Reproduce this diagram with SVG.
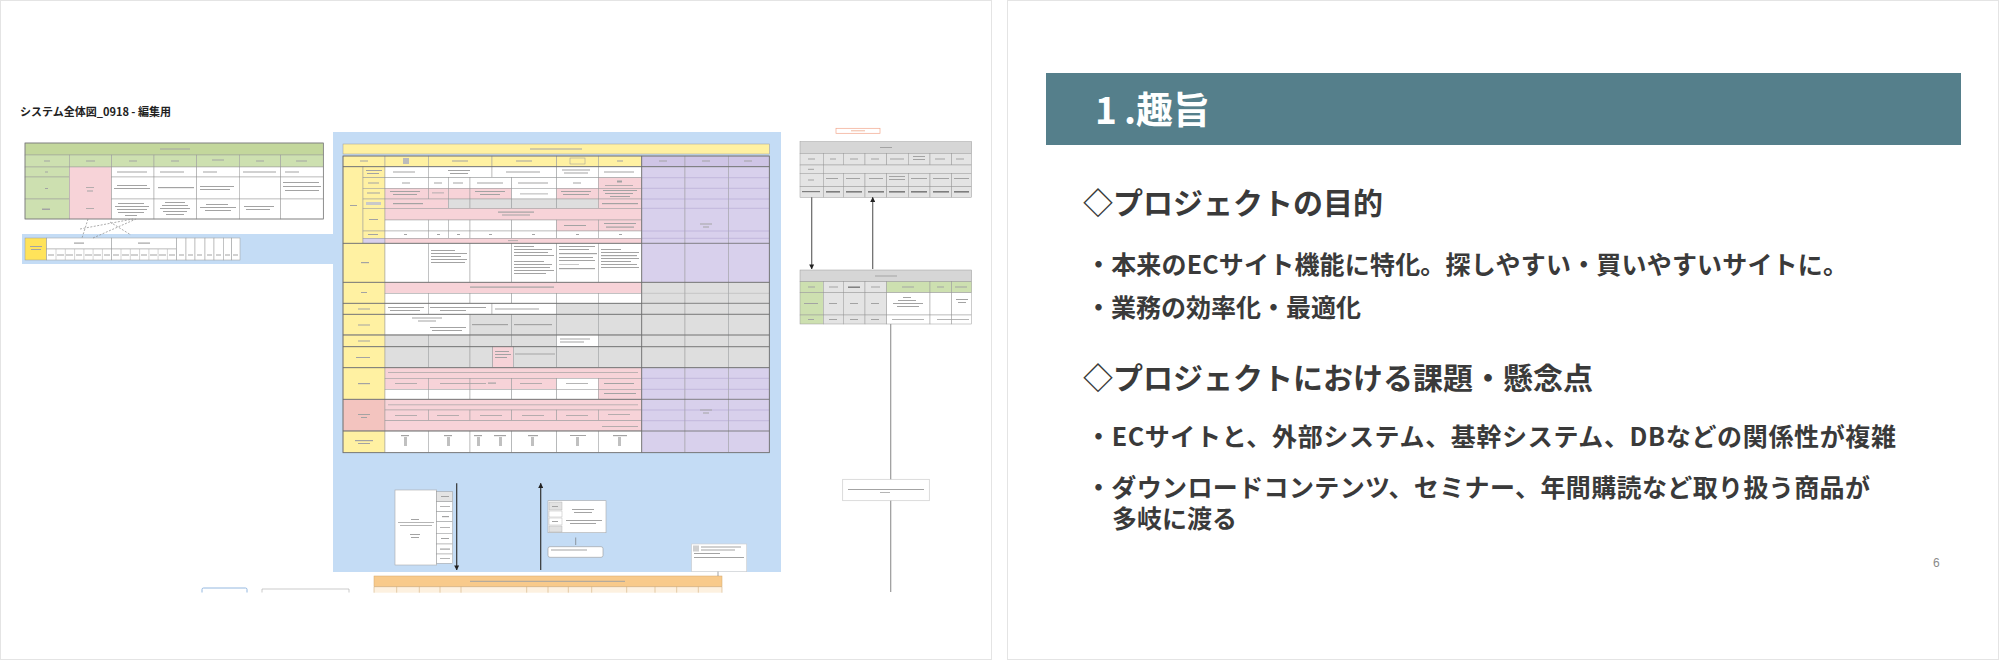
<svg xmlns="http://www.w3.org/2000/svg" width="2000" height="662" viewBox="0 0 2000 662">
<defs>
<style>
.c{stroke:#9a9a9a;stroke-width:0.5}
.w{fill:#ffffff}.y{fill:#fff1a2}.p{fill:#f7d3d8}.g{fill:#dedede}.v{fill:#d8d0ec}.vh{fill:#cfc5e6}
.gr{fill:#cde0b0}.grt{fill:#c3d79c}.sal{fill:#f3c4bf}.gg{fill:#e4e4e4}.gt{fill:#d6d6d6}
.t{fill:#a3a3a3}.td{fill:#7d7d7d}
.sec{stroke:#6a6a6a;stroke-width:0.8;fill:none}
.pl{stroke:#aa9fcc;stroke-width:0.5}
.ja{font-family:"Noto Sans CJK JP","Noto Sans",sans-serif;font-weight:700}
.dash{stroke:#888;stroke-width:0.7;stroke-dasharray:2 1.5;fill:none}
.arr{stroke:#333;stroke-width:1.2;fill:none}
.arr2{stroke:#666;stroke-width:1.2;fill:none}
</style>
<marker id="ah" viewBox="0 0 6 6" refX="5.5" refY="3" markerWidth="5" markerHeight="5" markerUnits="userSpaceOnUse" orient="auto">
<path d="M0,0 L6,3 L0,6 z" fill="#222"/>
</marker>
</defs>

<rect x="0" y="0" width="2000" height="662" fill="#ffffff"/>

<!-- LEFT SLIDE -->
<g id="slide-left">
<rect x="0.5" y="0.5" width="991" height="659" fill="#fff" stroke="#e4e4e4"/>
<text class="ja" x="20" y="116" font-size="11" fill="#222">システム全体図_0918 - 編集用</text>

<!-- blue areas -->
<g id="blue-area">
<rect x="22" y="234" width="314" height="30" fill="#c4dcf5"/>
<rect x="333" y="132" width="448" height="440" fill="#c4dcf5"/>
</g>

<!-- green table -->
<g id="green-table">
<rect class="grt c" x="25" y="143" width="298.3" height="12"/>
<rect class="t" x="160" y="148.5" width="30" height="1"/>
<g class="c">
<rect class="gr" x="25" y="155" width="44.3" height="12"/>
<rect class="gr" x="69.3" y="155" width="42.4" height="12"/>
<rect class="gr" x="111.7" y="155" width="42.3" height="12"/>
<rect class="gr" x="154" y="155" width="42.7" height="12"/>
<rect class="gr" x="196.7" y="155" width="42.6" height="12"/>
<rect class="gr" x="239.3" y="155" width="41.4" height="12"/>
<rect class="gr" x="280.7" y="155" width="42.6" height="12"/>
<rect class="gr" x="25" y="167" width="44.3" height="10"/>
<rect class="gr" x="25" y="177" width="44.3" height="22"/>
<rect class="gr" x="25" y="199" width="44.3" height="20"/>
<rect class="p" x="69.3" y="167" width="42.4" height="52"/>
<rect class="w" x="111.7" y="167" width="42.3" height="10"/>
<rect class="w" x="154" y="167" width="42.7" height="10"/>
<rect class="w" x="196.7" y="167" width="42.6" height="10"/>
<rect class="w" x="239.3" y="167" width="41.4" height="10"/>
<rect class="w" x="280.7" y="167" width="42.6" height="10"/>
<rect class="w" x="111.7" y="177" width="42.3" height="22"/>
<rect class="w" x="154" y="177" width="42.7" height="22"/>
<rect class="w" x="196.7" y="177" width="42.6" height="22"/>
<rect class="w" x="239.3" y="177" width="41.4" height="22"/>
<rect class="w" x="280.7" y="177" width="42.6" height="22"/>
<rect class="w" x="111.7" y="199" width="42.3" height="20"/>
<rect class="w" x="154" y="199" width="42.7" height="20"/>
<rect class="w" x="196.7" y="199" width="42.6" height="20"/>
<rect class="w" x="239.3" y="199" width="41.4" height="20"/>
<rect class="w" x="280.7" y="199" width="42.6" height="20"/>
</g>
<rect x="25" y="143" width="298.3" height="76" fill="none" stroke="#777" stroke-width="0.7"/>
<g class="t">
<rect x="44" y="160.5" width="6" height="1"/><rect x="86" y="160.5" width="9" height="1"/><rect x="129" y="160.5" width="8" height="1"/>
<rect x="171" y="160.5" width="8" height="1"/><rect x="212" y="159.5" width="12" height="1"/><rect x="256" y="160.5" width="8" height="1"/><rect x="296" y="160.5" width="11" height="1"/>
<rect x="45" y="171.5" width="3" height="1"/><rect x="45" y="188" width="3" height="1"/><rect x="42" y="208.5" width="8" height="1.5"/>
<rect x="86" y="187" width="8" height="0.8"/><rect x="87" y="190.5" width="6" height="1"/><rect x="86" y="208" width="8" height="0.8"/>
<rect x="117" y="171.5" width="30" height="1"/><rect x="160" y="171.5" width="24" height="1"/><rect x="203" y="171.5" width="14" height="1"/><rect x="243" y="171.5" width="33" height="1"/><rect x="285" y="171.5" width="14" height="1"/>
<rect x="117" y="185" width="30" height="1"/><rect x="114" y="188" width="36" height="1"/><rect x="158" y="187" width="36" height="1.2"/><rect x="200" y="186" width="34" height="1"/><rect x="200" y="189" width="30" height="1"/>
<rect x="283" y="182" width="36" height="1"/><rect x="283" y="186" width="38" height="1"/><rect x="285" y="190" width="34" height="1"/>
<rect x="118" y="203" width="26" height="1"/><rect x="115" y="206" width="34" height="1"/><rect x="117" y="209" width="30" height="1"/><rect x="118" y="212" width="26" height="1"/><rect x="125" y="215" width="12" height="1"/>
<rect x="165" y="202" width="20" height="1"/><rect x="162" y="205" width="26" height="1"/><rect x="160" y="208" width="30" height="1"/><rect x="163" y="211" width="24" height="1"/><rect x="166" y="214" width="18" height="1"/>
<rect x="206" y="204" width="22" height="1"/><rect x="200" y="207" width="36" height="1"/><rect x="205" y="210" width="26" height="1"/>
<rect x="244" y="206" width="30" height="1"/><rect x="246" y="209" width="24" height="1"/>
</g>
</g>

<!-- small table in blue strip -->
<g id="small-table">
<g class="c">
<rect fill="#ffe35a" x="25" y="238" width="21.7" height="22"/>
<rect class="w" x="46.7" y="238" width="65" height="11"/>
<rect class="w" x="111.7" y="238" width="65" height="11"/>
<rect class="w" x="46.7" y="249" width="65" height="11"/>
<rect class="w" x="111.7" y="249" width="65" height="11"/>
<rect class="w" x="176.7" y="238" width="9.3" height="22"/>
<rect class="w" x="186" y="238" width="9" height="22"/>
<rect class="w" x="195" y="238" width="10" height="22"/>
<rect class="w" x="205" y="238" width="9" height="22"/>
<rect class="w" x="214" y="238" width="9.3" height="22"/>
<rect class="w" x="223.3" y="238" width="8.4" height="22"/>
<rect class="w" x="231.7" y="238" width="8.3" height="22"/>
</g>
<path d="M56,249V260M65.3,249V260M74.6,249V260M83.9,249V260M93.1,249V260M102.4,249V260M121,249V260M130.3,249V260M139.6,249V260M148.9,249V260M158.1,249V260M167.4,249V260" stroke="#aaa" stroke-width="0.5"/>
<g class="t">
<rect x="30" y="246" width="12" height="1"/><rect x="31" y="249" width="10" height="1"/>
<rect x="74" y="242.5" width="10" height="1.2"/><rect x="138" y="242.5" width="12" height="1.2"/>
<rect x="48" y="254.5" width="6" height="1"/><rect x="57" y="254.5" width="7" height="1"/><rect x="66" y="254.5" width="7" height="1"/><rect x="76" y="254.5" width="6" height="1"/><rect x="85" y="254.5" width="7" height="1"/><rect x="94" y="254.5" width="7" height="1"/><rect x="104" y="254.5" width="6" height="1"/>
<rect x="113" y="254.5" width="6" height="1"/><rect x="122" y="254.5" width="7" height="1"/><rect x="131" y="254.5" width="7" height="1"/><rect x="141" y="254.5" width="6" height="1"/><rect x="150" y="254.5" width="7" height="1"/><rect x="159" y="254.5" width="7" height="1"/><rect x="169" y="254.5" width="6" height="1"/>
<rect x="179" y="254.5" width="5" height="1"/><rect x="188" y="254.5" width="5" height="1"/><rect x="197" y="254.5" width="5" height="1"/><rect x="207" y="254.5" width="5" height="1"/><rect x="216" y="254.5" width="5" height="1"/><rect x="225" y="254.5" width="5" height="1"/><rect x="233" y="254.5" width="5" height="1"/>
</g>
</g>

<!-- main table -->
<g id="main-table">
<rect class="y c" x="343" y="144" width="426.3" height="10"/>
<rect class="t" x="530" y="148.5" width="52" height="1"/>
<g class="c">
<rect class="y" x="343" y="156" width="42" height="10.7"/>
<rect class="y" x="385" y="156" width="43.3" height="10.7"/>
<rect class="y" x="428.3" y="156" width="63.7" height="10.7"/>
<rect class="y" x="492" y="156" width="64.7" height="10.7"/>
<rect class="y" x="556.7" y="156" width="41.6" height="10.7"/>
<rect class="y" x="598.3" y="156" width="43.4" height="10.7"/>
<rect class="vh" x="641.7" y="156" width="43.3" height="10.7"/>
<rect class="vh" x="685" y="156" width="43.3" height="10.7"/>
<rect class="vh" x="728.3" y="156" width="41" height="10.7"/>
</g>
<!-- purple columns -->
<g class="c">
<rect class="v" x="641.7" y="166.7" width="43.3" height="115.6"/>
<rect class="v" x="685" y="166.7" width="43.3" height="115.6"/>
<rect class="v" x="728.3" y="166.7" width="41" height="115.6"/>
<rect class="g" x="641.7" y="282.3" width="43.3" height="85.4"/>
<rect class="g" x="685" y="282.3" width="43.3" height="85.4"/>
<rect class="g" x="728.3" y="282.3" width="41" height="85.4"/>
<rect class="v" x="641.7" y="367.7" width="43.3" height="85"/>
<rect class="v" x="685" y="367.7" width="43.3" height="85"/>
<rect class="v" x="728.3" y="367.7" width="41" height="85"/>
</g>
<path class="pl" d="M641.7,177.7H769.3M641.7,188.3H769.3M641.7,199H769.3M641.7,208.3H769.3M641.7,231H769.3M641.7,238.3H769.3M641.7,378.3H769.3M641.7,389.3H769.3M641.7,410H769.3M641.7,420.7H769.3"/>
<path d="M641.7,293.3H769.3M641.7,314.3H769.3M641.7,335H769.3M641.7,346.7H769.3" stroke="#aaa" stroke-width="0.5"/>
<!-- label column -->
<g class="c">
<rect class="y" x="343" y="166.7" width="20" height="76.6"/>
<rect class="y" x="363" y="166.7" width="22" height="11"/>
<rect class="y" x="363" y="177.7" width="22" height="10.6"/>
<rect class="y" x="363" y="188.3" width="22" height="10.7"/>
<rect class="y" x="363" y="199" width="22" height="9.3"/>
<rect class="y" x="363" y="208.3" width="22" height="22.7"/>
<rect class="y" x="363" y="231" width="22" height="7.3"/>
<rect class="v" x="363" y="238.3" width="22" height="5"/>
<rect class="y" x="343" y="243.3" width="42" height="39"/>
<rect class="y" x="343" y="282.3" width="42" height="21"/>
<rect class="y" x="343" y="303.3" width="42" height="11"/>
<rect class="y" x="343" y="314.3" width="42" height="20.7"/>
<rect class="y" x="343" y="335" width="42" height="11.7"/>
<rect class="y" x="343" y="346.7" width="42" height="21"/>
<rect class="y" x="343" y="367.7" width="42" height="31.6"/>
<rect class="sal" x="343" y="399.3" width="42" height="31.7"/>
<rect class="y" x="343" y="431" width="42" height="21.7"/>
</g>
<!-- section 1 -->
<g class="c">
<rect class="w" x="385" y="166.7" width="43.3" height="11"/>
<rect class="w" x="428.3" y="166.7" width="63.7" height="11"/>
<rect class="w" x="492" y="166.7" width="64.7" height="11"/>
<rect class="w" x="556.7" y="166.7" width="41.6" height="11"/>
<rect class="w" x="598.3" y="166.7" width="43.4" height="11"/>

<rect class="w" x="385" y="177.7" width="43.3" height="10.6"/>
<rect class="w" x="428.3" y="177.7" width="20" height="10.6"/>
<rect class="w" x="448.3" y="177.7" width="21.7" height="10.6"/>
<rect class="w" x="470" y="177.7" width="41.7" height="10.6"/>
<rect class="w" x="511.7" y="177.7" width="45" height="10.6"/>
<rect class="w" x="556.7" y="177.7" width="41.6" height="10.6"/>
<rect class="p" x="598.3" y="177.7" width="43.4" height="10.6"/>

<rect class="p" x="385" y="188.3" width="43.3" height="10.7"/>
<rect class="p" x="428.3" y="188.3" width="20" height="10.7"/>
<rect class="p" x="448.3" y="188.3" width="21.7" height="10.7"/>
<rect class="p" x="470" y="188.3" width="41.7" height="10.7"/>
<rect class="w" x="511.7" y="188.3" width="45" height="10.7"/>
<rect class="p" x="556.7" y="188.3" width="41.6" height="10.7"/>
<rect class="p" x="598.3" y="188.3" width="43.4" height="10.7"/>

<rect class="p" x="385" y="199" width="63.3" height="9.3"/>
<rect class="g" x="448.3" y="199" width="21.7" height="9.3"/>
<rect class="g" x="470" y="199" width="41.7" height="9.3"/>
<rect class="g" x="511.7" y="199" width="45" height="9.3"/>
<rect class="g" x="556.7" y="199" width="41.6" height="9.3"/>
<rect class="p" x="598.3" y="199" width="43.4" height="9.3"/>

<rect class="p" x="385" y="208.3" width="256.7" height="11.7"/>

<rect class="w" x="385" y="220" width="43.3" height="11"/>
<rect class="w" x="428.3" y="220" width="20" height="11"/>
<rect class="w" x="448.3" y="220" width="21.7" height="11"/>
<rect class="w" x="470" y="220" width="41.7" height="11"/>
<rect class="w" x="511.7" y="220" width="45" height="11"/>
<rect class="p" x="556.7" y="220" width="41.6" height="11"/>
<rect class="p" x="598.3" y="220" width="43.4" height="11"/>

<rect class="w" x="385" y="231" width="43.3" height="7.3"/>
<rect class="w" x="428.3" y="231" width="20" height="7.3"/>
<rect class="w" x="448.3" y="231" width="21.7" height="7.3"/>
<rect class="w" x="470" y="231" width="41.7" height="7.3"/>
<rect class="w" x="511.7" y="231" width="45" height="7.3"/>
<rect class="w" x="556.7" y="231" width="41.6" height="7.3"/>
<rect class="w" x="598.3" y="231" width="43.4" height="7.3"/>

<rect class="p" x="385" y="238.3" width="256.7" height="5"/>
</g>
<!-- section 2 -->
<g class="c">
<rect class="w" x="385" y="243.3" width="43.3" height="39"/>
<rect class="w" x="428.3" y="243.3" width="41.7" height="39"/>
<rect class="w" x="470" y="243.3" width="41.7" height="39"/>
<rect class="w" x="511.7" y="243.3" width="45" height="39"/>
<rect class="w" x="556.7" y="243.3" width="41.6" height="39"/>
<rect class="w" x="598.3" y="243.3" width="43.4" height="39"/>
</g>
<!-- section 3 -->
<g class="c">
<rect class="p" x="385" y="282.3" width="256.7" height="11"/>
<rect class="w" x="385" y="293.3" width="43.3" height="10"/>
<rect class="w" x="428.3" y="293.3" width="41.7" height="10"/>
<rect class="w" x="470" y="293.3" width="41.7" height="10"/>
<rect class="w" x="511.7" y="293.3" width="45" height="10"/>
<rect class="w" x="556.7" y="293.3" width="41.6" height="10"/>
<rect class="w" x="598.3" y="293.3" width="43.4" height="10"/>
</g>
<!-- section 4 -->
<g class="c">
<rect class="w" x="385" y="303.3" width="43.3" height="11"/>
<rect class="w" x="428.3" y="303.3" width="63.7" height="11"/>
<rect class="w" x="492" y="303.3" width="64.7" height="11"/>
<rect class="g" x="556.7" y="303.3" width="41.6" height="11"/>
<rect class="g" x="598.3" y="303.3" width="43.4" height="11"/>

<rect class="w" x="385" y="314.3" width="85" height="20.7"/>
<rect class="g" x="470" y="314.3" width="41.7" height="20.7"/>
<rect class="g" x="511.7" y="314.3" width="45" height="20.7"/>
<rect class="g" x="556.7" y="314.3" width="41.6" height="20.7"/>
<rect class="g" x="598.3" y="314.3" width="43.4" height="20.7"/>

<rect class="g" x="385" y="335" width="43.3" height="11.7"/>
<rect class="g" x="428.3" y="335" width="41.7" height="11.7"/>
<rect class="g" x="470" y="335" width="41.7" height="11.7"/>
<rect class="g" x="511.7" y="335" width="45" height="11.7"/>
<rect class="w" x="556.7" y="335" width="41.6" height="11.7"/>
<rect class="g" x="598.3" y="335" width="43.4" height="11.7"/>

<rect class="g" x="385" y="346.7" width="43.3" height="21"/>
<rect class="g" x="428.3" y="346.7" width="41.7" height="21"/>
<rect class="g" x="470" y="346.7" width="22.7" height="21"/>
<rect class="p" x="492.7" y="346.7" width="20.6" height="21"/>
<rect class="g" x="513.3" y="346.7" width="43.4" height="21"/>
<rect class="g" x="556.7" y="346.7" width="41.6" height="21"/>
<rect class="g" x="598.3" y="346.7" width="43.4" height="21"/>
</g>
<!-- section 5 -->
<g class="c">
<rect class="p" x="385" y="367.7" width="256.7" height="10.6"/>
<rect class="p" x="385" y="378.3" width="43.3" height="11"/>
<rect class="p" x="428.3" y="378.3" width="41.7" height="11"/>
<rect class="p" x="470" y="378.3" width="41.7" height="11"/>
<rect class="p" x="511.7" y="378.3" width="45" height="11"/>
<rect class="w" x="556.7" y="378.3" width="41.6" height="11"/>
<rect class="p" x="598.3" y="378.3" width="43.4" height="11"/>
<rect class="w" x="385" y="389.3" width="43.3" height="10"/>
<rect class="w" x="428.3" y="389.3" width="41.7" height="10"/>
<rect class="w" x="470" y="389.3" width="41.7" height="10"/>
<rect class="w" x="511.7" y="389.3" width="45" height="10"/>
<rect class="w" x="556.7" y="389.3" width="41.6" height="10"/>
<rect class="p" x="598.3" y="389.3" width="43.4" height="10"/>
</g>
<!-- section 6 -->
<g class="c">
<rect class="p" x="385" y="399.3" width="256.7" height="10.7"/>
<rect class="p" x="385" y="410" width="43.3" height="10.7"/>
<rect class="p" x="428.3" y="410" width="41.7" height="10.7"/>
<rect class="p" x="470" y="410" width="41.7" height="10.7"/>
<rect class="p" x="511.7" y="410" width="45" height="10.7"/>
<rect class="p" x="556.7" y="410" width="41.6" height="10.7"/>
<rect class="p" x="598.3" y="410" width="43.4" height="10.7"/>
<rect class="p" x="385" y="420.7" width="256.7" height="10.3"/>
</g>
<!-- section 7 -->
<g class="c">
<rect class="w" x="385" y="431" width="43.3" height="21.7"/>
<rect class="w" x="428.3" y="431" width="41.7" height="21.7"/>
<rect class="w" x="470" y="431" width="41.7" height="21.7"/>
<rect class="w" x="511.7" y="431" width="45" height="21.7"/>
<rect class="w" x="556.7" y="431" width="41.6" height="21.7"/>
<rect class="w" x="598.3" y="431" width="43.4" height="21.7"/>
</g>
<path class="sec" d="M343,166.7H769.3M343,243.3H769.3M343,282.3H769.3M343,303.3H769.3M343,314.3H769.3M343,335H769.3M343,346.7H769.3M343,367.7H769.3M343,399.3H769.3M343,431H769.3M641.7,156V452.7"/>
<rect class="sec" x="343" y="156" width="426.3" height="296.7"/>
<!-- blurred cell texts -->
<g class="t">
<rect x="360" y="160.5" width="8" height="1"/><rect x="403" y="158" width="6" height="6" fill="#bbb"/><rect x="452" y="160.5" width="16" height="1"/><rect x="516" y="160.5" width="16" height="1"/>
<rect x="570" y="158" width="15" height="6" fill="none" stroke="#999" stroke-width="0.5"/><rect x="617" y="160.5" width="6" height="1"/><rect x="659" y="160.5" width="8" height="1"/><rect x="702" y="160.5" width="8" height="1"/><rect x="744" y="160.5" width="8" height="1"/>
<rect x="366" y="170" width="16" height="1"/><rect x="367" y="173" width="12" height="1"/><rect x="368" y="182.5" width="11" height="1"/><rect x="367" y="192.5" width="13" height="1"/><rect x="366" y="202" width="15" height="3" fill="#c9c9c9"/><rect x="369" y="219" width="9" height="1"/><rect x="368" y="234" width="10" height="1"/>
<rect x="350" y="205" width="7" height="1"/>
<rect x="393" y="171.5" width="22" height="1"/><rect x="448" y="170" width="22" height="1"/><rect x="450" y="173" width="18" height="1"/><rect x="506" y="171.5" width="34" height="1"/>
<rect x="562" y="169.5" width="28" height="1"/><rect x="564" y="172.5" width="24" height="1"/><rect x="604" y="171.5" width="30" height="1"/>
<rect x="402" y="182.5" width="8" height="1"/><rect x="434" y="182.5" width="8" height="1"/><rect x="453" y="182.5" width="10" height="1"/><rect x="477" y="182.5" width="26" height="1"/><rect x="518" y="182.5" width="30" height="1"/><rect x="573" y="182.5" width="8" height="1"/><rect x="617" y="180.5" width="5" height="2"/><rect x="605" y="185" width="28" height="0.8"/>
<rect x="390" y="191" width="30" height="1"/><rect x="393" y="194" width="24" height="1"/><rect x="432" y="192.5" width="12" height="0.8"/><rect x="475" y="191" width="30" height="1"/><rect x="480" y="194" width="20" height="1"/><rect x="520" y="193.5" width="28" height="0.8"/>
<rect x="561" y="191" width="30" height="1"/><rect x="563" y="194" width="26" height="1"/><rect x="603" y="190" width="34" height="1"/><rect x="605" y="193" width="28" height="1"/><rect x="610" y="196" width="20" height="1"/>
<rect x="393" y="203" width="30" height="1.2"/><rect x="602" y="203" width="36" height="1.2"/>
<rect x="498" y="211.5" width="36" height="1.2"/><rect x="502" y="214.5" width="28" height="1"/>
<rect x="564" y="225" width="22" height="1"/><rect x="604" y="223" width="32" height="1"/><rect x="606" y="226.5" width="28" height="1.2"/>
<rect x="404" y="234" width="3" height="1"/><rect x="437" y="234" width="3" height="1"/><rect x="457" y="234" width="3" height="1"/><rect x="489" y="234" width="3" height="1"/><rect x="532" y="234" width="3" height="1"/><rect x="576" y="234" width="3" height="1"/><rect x="619" y="234" width="3" height="1"/>
<rect x="508" y="240.3" width="10" height="0.8"/>
<rect x="361" y="262" width="8" height="1.2"/>
<rect x="431" y="250" width="24" height="1"/><rect x="431" y="253" width="36" height="1"/><rect x="431" y="256" width="30" height="1"/><rect x="431" y="259" width="36" height="1"/><rect x="431" y="262" width="34" height="1"/>
<rect x="514" y="246" width="20" height="1"/><rect x="514" y="249" width="38" height="1"/><rect x="514" y="252" width="34" height="1"/><rect x="514" y="255" width="40" height="1"/><rect x="514" y="261" width="30" height="1"/><rect x="514" y="264" width="38" height="1"/><rect x="514" y="267" width="36" height="1"/><rect x="514" y="270" width="40" height="1"/><rect x="514" y="273" width="32" height="1"/>
<rect x="559" y="246" width="36" height="1"/><rect x="559" y="249" width="30" height="1"/><rect x="559" y="253" width="38" height="1.2"/><rect x="559" y="257" width="34" height="1"/><rect x="559" y="260" width="36" height="1"/><rect x="559" y="264" width="20" height="0.6"/><rect x="559" y="268" width="36" height="1.2"/>
<rect x="601" y="249" width="20" height="1"/><rect x="601" y="252" width="38" height="1"/><rect x="601" y="255" width="36" height="1.2"/><rect x="601" y="258" width="38" height="1"/><rect x="601" y="261" width="30" height="1"/><rect x="601" y="264" width="36" height="1"/><rect x="601" y="267" width="38" height="1"/>
<rect x="361" y="292" width="6" height="1"/><rect x="470" y="286.5" width="84" height="1.2"/>
<rect x="358" y="308.5" width="12" height="1"/><rect x="388" y="307" width="36" height="1"/><rect x="390" y="310" width="30" height="1"/><rect x="430" y="307" width="56" height="1"/><rect x="440" y="310" width="26" height="1"/><rect x="495" y="308.5" width="44" height="1"/>
<rect x="358" y="324.5" width="12" height="1"/><rect x="412" y="317.5" width="30" height="1"/><rect x="418" y="320.5" width="18" height="1"/><rect x="430" y="327" width="36" height="1"/><rect x="432" y="330" width="30" height="1"/>
<rect x="472" y="324" width="36" height="1.2"/><rect x="514" y="324" width="38" height="1.2"/>
<rect x="358" y="340.5" width="12" height="1"/><rect x="560" y="338.5" width="30" height="1"/><rect x="560" y="341.5" width="24" height="1"/>
<rect x="356" y="357" width="14" height="1"/><rect x="495" y="351" width="14" height="1"/><rect x="495" y="354" width="16" height="1"/><rect x="495" y="357" width="12" height="1"/><rect x="515" y="353.5" width="40" height="1"/>
<rect x="358" y="383" width="12" height="1.2"/><rect x="388" y="372" width="250" height="0.7"/>
<rect x="395" y="383" width="22" height="0.8"/><rect x="440" y="383" width="46" height="0.8"/><rect x="488" y="382.5" width="8" height="1.2"/><rect x="520" y="383" width="22" height="0.8"/><rect x="566" y="383" width="22" height="0.8"/><rect x="604" y="383" width="30" height="1"/><rect x="604" y="393" width="32" height="1"/>
<rect x="358" y="414" width="12" height="1"/><rect x="361" y="417" width="6" height="1"/><rect x="388" y="404.5" width="250" height="0.7"/>
<rect x="395" y="415" width="22" height="0.8"/><rect x="437" y="415" width="22" height="0.8"/><rect x="480" y="415" width="22" height="0.8"/><rect x="522" y="415" width="22" height="0.8"/><rect x="566" y="415" width="22" height="0.8"/><rect x="608" y="414" width="22" height="0.8"/><rect x="602" y="426" width="36" height="0.8"/>
<rect x="355" y="440" width="18" height="1.2"/><rect x="358" y="443" width="12" height="1"/>
<rect x="401" y="435" width="8" height="1.2"/><rect x="404" y="437" width="3" height="9" fill="#c0c0c0"/>
<rect x="444" y="435" width="8" height="1.2"/><rect x="447" y="437" width="3" height="9" fill="#c0c0c0"/>
<rect x="474" y="435" width="8" height="1.2"/><rect x="477" y="437" width="3" height="9" fill="#c0c0c0"/>
<rect x="494" y="435" width="12" height="1.2"/><rect x="499" y="437" width="3" height="9" fill="#c0c0c0"/>
<rect x="528" y="435" width="10" height="1.2"/><rect x="531" y="437" width="3" height="9" fill="#c0c0c0"/>
<rect x="570" y="435" width="16" height="1"/><rect x="576" y="437" width="3" height="9" fill="#c0c0c0"/>
<rect x="613" y="435" width="14" height="1.2"/><rect x="618" y="437" width="3" height="9" fill="#c0c0c0"/>
<rect x="700" y="223.5" width="12" height="1"/><rect x="703" y="226.5" width="6" height="1"/>
<rect x="700" y="409.5" width="12" height="1"/><rect x="703" y="412.5" width="6" height="1"/>
</g>
</g>

<!-- bottom nodes inside blue -->
<g id="node-left-box">
<rect x="395" y="490" width="41.7" height="75" fill="#fff" stroke="#aaa" stroke-width="0.6"/>
<g class="c">
<rect class="gg" x="436.7" y="491.7" width="16" height="10"/>
<rect class="w" x="436.7" y="501.7" width="16" height="10"/>
<rect class="w" x="436.7" y="511.7" width="16" height="10"/>
<rect class="w" x="436.7" y="521.7" width="16" height="11.6"/>
<rect class="w" x="436.7" y="533.3" width="16" height="10.7"/>
<rect class="w" x="436.7" y="544" width="16" height="10"/>
<rect class="w" x="436.7" y="554" width="16" height="9.3"/>
</g>
<g class="t">
<rect x="411" y="519" width="8" height="1"/><rect x="398" y="522" width="36" height="0.8"/><rect x="400" y="525" width="32" height="0.8"/><rect x="410" y="534" width="10" height="1"/><rect x="411" y="537" width="8" height="1"/>
<rect x="441" y="496" width="8" height="1"/><rect x="440" y="506" width="10" height="0.8"/><rect x="442" y="516" width="7" height="1.2"/><rect x="440" y="527" width="10" height="0.8"/><rect x="441" y="538" width="8" height="1"/><rect x="440" y="548.5" width="10" height="1.2"/><rect x="440" y="558" width="10" height="0.8"/>
</g>
</g>
<g id="node-mid-box">
<rect x="548" y="500.7" width="58" height="32" fill="#fff" stroke="#aaa" stroke-width="0.6"/>
<rect x="549" y="502" width="13" height="8" fill="#e2e2e2" stroke="#aaa" stroke-width="0.4"/>
<rect x="549" y="511" width="13" height="6" fill="#fff" stroke="#aaa" stroke-width="0.4"/>
<rect x="549" y="518" width="13" height="7" fill="#fff" stroke="#aaa" stroke-width="0.4"/>
<rect x="549" y="526" width="13" height="6" fill="#e2e2e2" stroke="#aaa" stroke-width="0.4"/>
<g class="t">
<rect x="572" y="509" width="22" height="1"/><rect x="574" y="512" width="18" height="1"/><rect x="566" y="520" width="36" height="1"/><rect x="570" y="523" width="26" height="1"/>
<rect x="552" y="506" width="6" height="1"/><rect x="552" y="521" width="6" height="1"/>
</g>
</g>
<g id="node-mid-small">
<rect x="548" y="546.7" width="55" height="10.6" rx="2" fill="#fff" stroke="#999" stroke-width="0.6"/>
<rect class="t" x="551" y="549.5" width="36" height="1"/>
</g>
<g id="node-right-note">
<rect x="691.7" y="544" width="55" height="27.7" fill="#fff" stroke="#ccc" stroke-width="0.6"/>
<rect x="693" y="545.5" width="6" height="6" fill="#d0d0d0"/>
<g class="t">
<rect x="701" y="546.5" width="40" height="1"/><rect x="701" y="549.5" width="34" height="1"/><rect x="694" y="553" width="26" height="1"/><rect x="694" y="557" width="50" height="1"/>
</g>
</g>

<!-- orange table -->
<g id="orange-table">
<rect x="374" y="576" width="348" height="10.7" fill="#f8ca8b" stroke="#d3a86d" stroke-width="0.5"/>
<rect class="t" x="470" y="580.8" width="155" height="1"/>
<rect x="374" y="586.7" width="348" height="6" fill="#fdf1e0"/>
<path d="M374,586.7V592.7M396.7,586.7V592.7M419.3,586.7V592.7M440,586.7V592.7M461,586.7V592.7M526.7,586.7V592.7M548,586.7V592.7M568.3,586.7V592.7M591.7,586.7V592.7M626.7,586.7V592.7M655,586.7V592.7M676.7,586.7V592.7M698.3,586.7V592.7M722,586.7V592.7M374,586.7H722" stroke="#c9a36b" stroke-width="0.5"/>
</g>
<g id="bottom-left-items">
<path d="M202,592.5V589.5Q202,588 203.5,588H245.5Q247,588 247,589.5V592.5" fill="#fff" stroke="#7aa6d8" stroke-width="0.8"/>
<path d="M262,592.5V589H349V592.5" fill="#fff" stroke="#aaa" stroke-width="0.6"/>
</g>

<!-- right tables -->
<g id="orange-mini">
<rect x="836" y="128.3" width="44" height="5" fill="#fff" stroke="#f2a58a" stroke-width="0.7"/>
<rect x="851" y="130.3" width="14" height="1" fill="#f0b8a0"/>
</g>
<g id="gray-table-1">
<rect class="gt c" x="800" y="141.7" width="171.7" height="11.6"/>
<rect class="t" x="880" y="147" width="12" height="1"/>
<g class="c gg">
<rect x="800" y="153.3" width="23.3" height="11.7"/><rect x="823.3" y="153.3" width="20" height="11.7"/><rect x="843.3" y="153.3" width="21.7" height="11.7"/><rect x="865" y="153.3" width="21.7" height="11.7"/><rect x="886.7" y="153.3" width="21.6" height="11.7"/><rect x="908.3" y="153.3" width="21.7" height="11.7"/><rect x="930" y="153.3" width="21.7" height="11.7"/><rect x="951.7" y="153.3" width="20" height="11.7"/>
<rect x="800" y="165" width="23.3" height="8.3"/><rect x="823.3" y="165" width="148.4" height="8.3"/>
<rect x="800" y="173.3" width="23.3" height="13.4"/><rect x="823.3" y="173.3" width="20" height="13.4"/><rect x="843.3" y="173.3" width="21.7" height="13.4"/><rect x="865" y="173.3" width="21.7" height="13.4"/><rect x="886.7" y="173.3" width="21.6" height="13.4"/><rect x="908.3" y="173.3" width="21.7" height="13.4"/><rect x="930" y="173.3" width="21.7" height="13.4"/><rect x="951.7" y="173.3" width="20" height="13.4"/>
<rect x="800" y="186.7" width="23.3" height="10.6"/><rect x="823.3" y="186.7" width="20" height="10.6"/><rect x="843.3" y="186.7" width="21.7" height="10.6"/><rect x="865" y="186.7" width="21.7" height="10.6"/><rect x="886.7" y="186.7" width="21.6" height="10.6"/><rect x="908.3" y="186.7" width="21.7" height="10.6"/><rect x="930" y="186.7" width="21.7" height="10.6"/><rect x="951.7" y="186.7" width="20" height="10.6"/>
</g>
<g class="t">
<rect x="808" y="158.5" width="7" height="1"/><rect x="830" y="158.5" width="6" height="1"/><rect x="850" y="158.5" width="8" height="1"/><rect x="871" y="158.5" width="8" height="1"/><rect x="890" y="158.5" width="14" height="1"/><rect x="913" y="156" width="12" height="1"/><rect x="913" y="159" width="12" height="1"/><rect x="935" y="158.5" width="10" height="1"/><rect x="956" y="158.5" width="8" height="1"/>
<rect x="808" y="168.8" width="6" height="1"/>
<rect x="808" y="179.5" width="6" height="1"/><rect x="826" y="178" width="12" height="1"/><rect x="846" y="178" width="14" height="1"/><rect x="869" y="178" width="14" height="1"/><rect x="889" y="176" width="16" height="1"/><rect x="889" y="179" width="16" height="1"/><rect x="911" y="178" width="16" height="1"/><rect x="933" y="178" width="16" height="1"/><rect x="954" y="178" width="15" height="1"/>
</g>
<g class="td">
<rect x="802" y="191" width="18" height="1.2"/><rect x="826" y="191" width="14" height="1.6"/><rect x="846" y="191" width="16" height="1.6"/><rect x="868" y="191" width="16" height="1.6"/><rect x="889" y="191" width="16" height="1.6"/><rect x="911" y="191" width="16" height="1.6"/><rect x="933" y="191" width="16" height="1.6"/><rect x="954" y="191" width="15" height="1.6"/>
</g>
</g>
<g id="gray-table-2">
<rect class="gt c" x="800" y="270" width="171.7" height="11.7"/>
<rect class="t" x="875" y="275.5" width="22" height="1"/>
<g class="c">
<rect class="gr" x="800" y="281.7" width="23.3" height="11"/><rect class="gg" x="823.3" y="281.7" width="20" height="11"/><rect class="gg" x="843.3" y="281.7" width="21.7" height="11"/><rect class="gg" x="865" y="281.7" width="21.7" height="11"/><rect class="gr" x="886.7" y="281.7" width="43.3" height="11"/><rect class="gr" x="930" y="281.7" width="21.7" height="11"/><rect class="gr" x="951.7" y="281.7" width="20" height="11"/>
<rect class="gr" x="800" y="292.7" width="23.3" height="22.3"/><rect class="gg" x="823.3" y="292.7" width="20" height="22.3"/><rect class="gg" x="843.3" y="292.7" width="21.7" height="22.3"/><rect class="gg" x="865" y="292.7" width="21.7" height="22.3"/><rect class="w" x="886.7" y="292.7" width="43.3" height="22.3"/><rect class="w" x="930" y="292.7" width="21.7" height="22.3"/><rect class="w" x="951.7" y="292.7" width="20" height="22.3"/>
<rect class="gr" x="800" y="315" width="23.3" height="9"/><rect class="gg" x="823.3" y="315" width="20" height="9"/><rect class="gg" x="843.3" y="315" width="21.7" height="9"/><rect class="gg" x="865" y="315" width="21.7" height="9"/><rect class="w" x="886.7" y="315" width="43.3" height="9"/><rect class="w" x="930" y="315" width="21.7" height="9"/><rect class="w" x="951.7" y="315" width="20" height="9"/>
</g>
<g class="t">
<rect x="808" y="286.5" width="7" height="1"/><rect x="829" y="286.5" width="9" height="1"/><rect x="848" y="286.5" width="12" height="1.4" fill="#777"/><rect x="871" y="286.5" width="9" height="1"/><rect x="902" y="286.5" width="12" height="1"/><rect x="937" y="286.5" width="7" height="1"/><rect x="955" y="286.5" width="12" height="1"/>
<rect x="804" y="303" width="14" height="1"/><rect x="829" y="303" width="8" height="1"/><rect x="850" y="303" width="8" height="1"/><rect x="871" y="303" width="8" height="1"/>
<rect x="903" y="297" width="8" height="1"/><rect x="898" y="300" width="18" height="1"/><rect x="893" y="303" width="30" height="1"/><rect x="897" y="306" width="22" height="1"/><rect x="956" y="299" width="12" height="1"/><rect x="958" y="302" width="8" height="1"/>
<rect x="808" y="319" width="6" height="1"/><rect x="829" y="319" width="8" height="1"/><rect x="850" y="319" width="8" height="1"/><rect x="871" y="319" width="8" height="1"/><rect x="892" y="319" width="32" height="0.8"/><rect x="937" y="319" width="32" height="0.8"/>
</g>
</g>
<g id="node-right-bottom">
<rect x="842.7" y="479.3" width="86.6" height="21.4" fill="#fff" stroke="#ccc" stroke-width="0.7"/>
<rect class="t" x="848" y="489" width="76" height="1"/><rect class="t" x="880" y="492" width="10" height="0.8"/>
</g>

<!-- connectors -->
<g id="connectors">
<path class="dash" d="M88,219L82,238M80,229L133,219M93,238L136,219M110,222L131,235"/>
<line class="arr" x1="456.7" y1="483.3" x2="456.7" y2="570" marker-end="url(#ah)"/>
<line class="arr" x1="540.7" y1="570" x2="540.7" y2="483.3" marker-end="url(#ah)"/>
<line x1="575.7" y1="537.5" x2="575.7" y2="545" stroke="#666" stroke-width="0.6"/>
<line x1="718" y1="571.7" x2="718" y2="576" stroke="#666" stroke-width="0.6"/>
<line class="arr2" x1="811.7" y1="197.3" x2="811.7" y2="269" marker-end="url(#ah)"/>
<line class="arr2" x1="872.7" y1="269" x2="872.7" y2="197.3" marker-end="url(#ah)"/>
<line x1="890.7" y1="324" x2="890.7" y2="479.3" stroke="#999" stroke-width="1.2"/>
<line x1="890.7" y1="500.7" x2="890.7" y2="592" stroke="#999" stroke-width="1.2"/>
</g>
</g>

<!-- RIGHT SLIDE -->
<g id="slide-right">
<rect x="1007.5" y="0.5" width="991" height="659" fill="#fff" stroke="#e4e4e4"/>
<g id="title-bar">
<rect x="1046" y="73" width="915" height="72" fill="#557f8b"/>
<text class="ja" x="1095" y="124" font-size="37" fill="#ffffff">1<tspan x="1124">.趣旨</tspan></text>
</g>
<g class="ja" fill="#3a3a3a">
<text x="1083" y="214" font-size="30">◇プロジェクトの目的</text>
<text x="1086" y="274" font-size="25" textLength="762" lengthAdjust="spacing">・本来のECサイト機能に特化。探しやすい・買いやすいサイトに。</text>
<text x="1086" y="317" font-size="25">・業務の効率化・最適化</text>
<text x="1083" y="389" font-size="30">◇プロジェクトにおける課題・懸念点</text>
<text x="1086" y="446" font-size="25" textLength="810" lengthAdjust="spacing">・ECサイトと、外部システム、基幹システム、DBなどの関係性が複雑</text>
<text x="1086" y="497" font-size="25" textLength="784" lengthAdjust="spacing">・ダウンロードコンテンツ、セミナー、年間購読など取り扱う商品が</text>
<text x="1112" y="528" font-size="25">多岐に渡る</text>
</g>
<text x="1933" y="567" font-size="12" fill="#8a8a8a" font-family="Liberation Sans, Arial, sans-serif">6</text>
</g>
</svg>
